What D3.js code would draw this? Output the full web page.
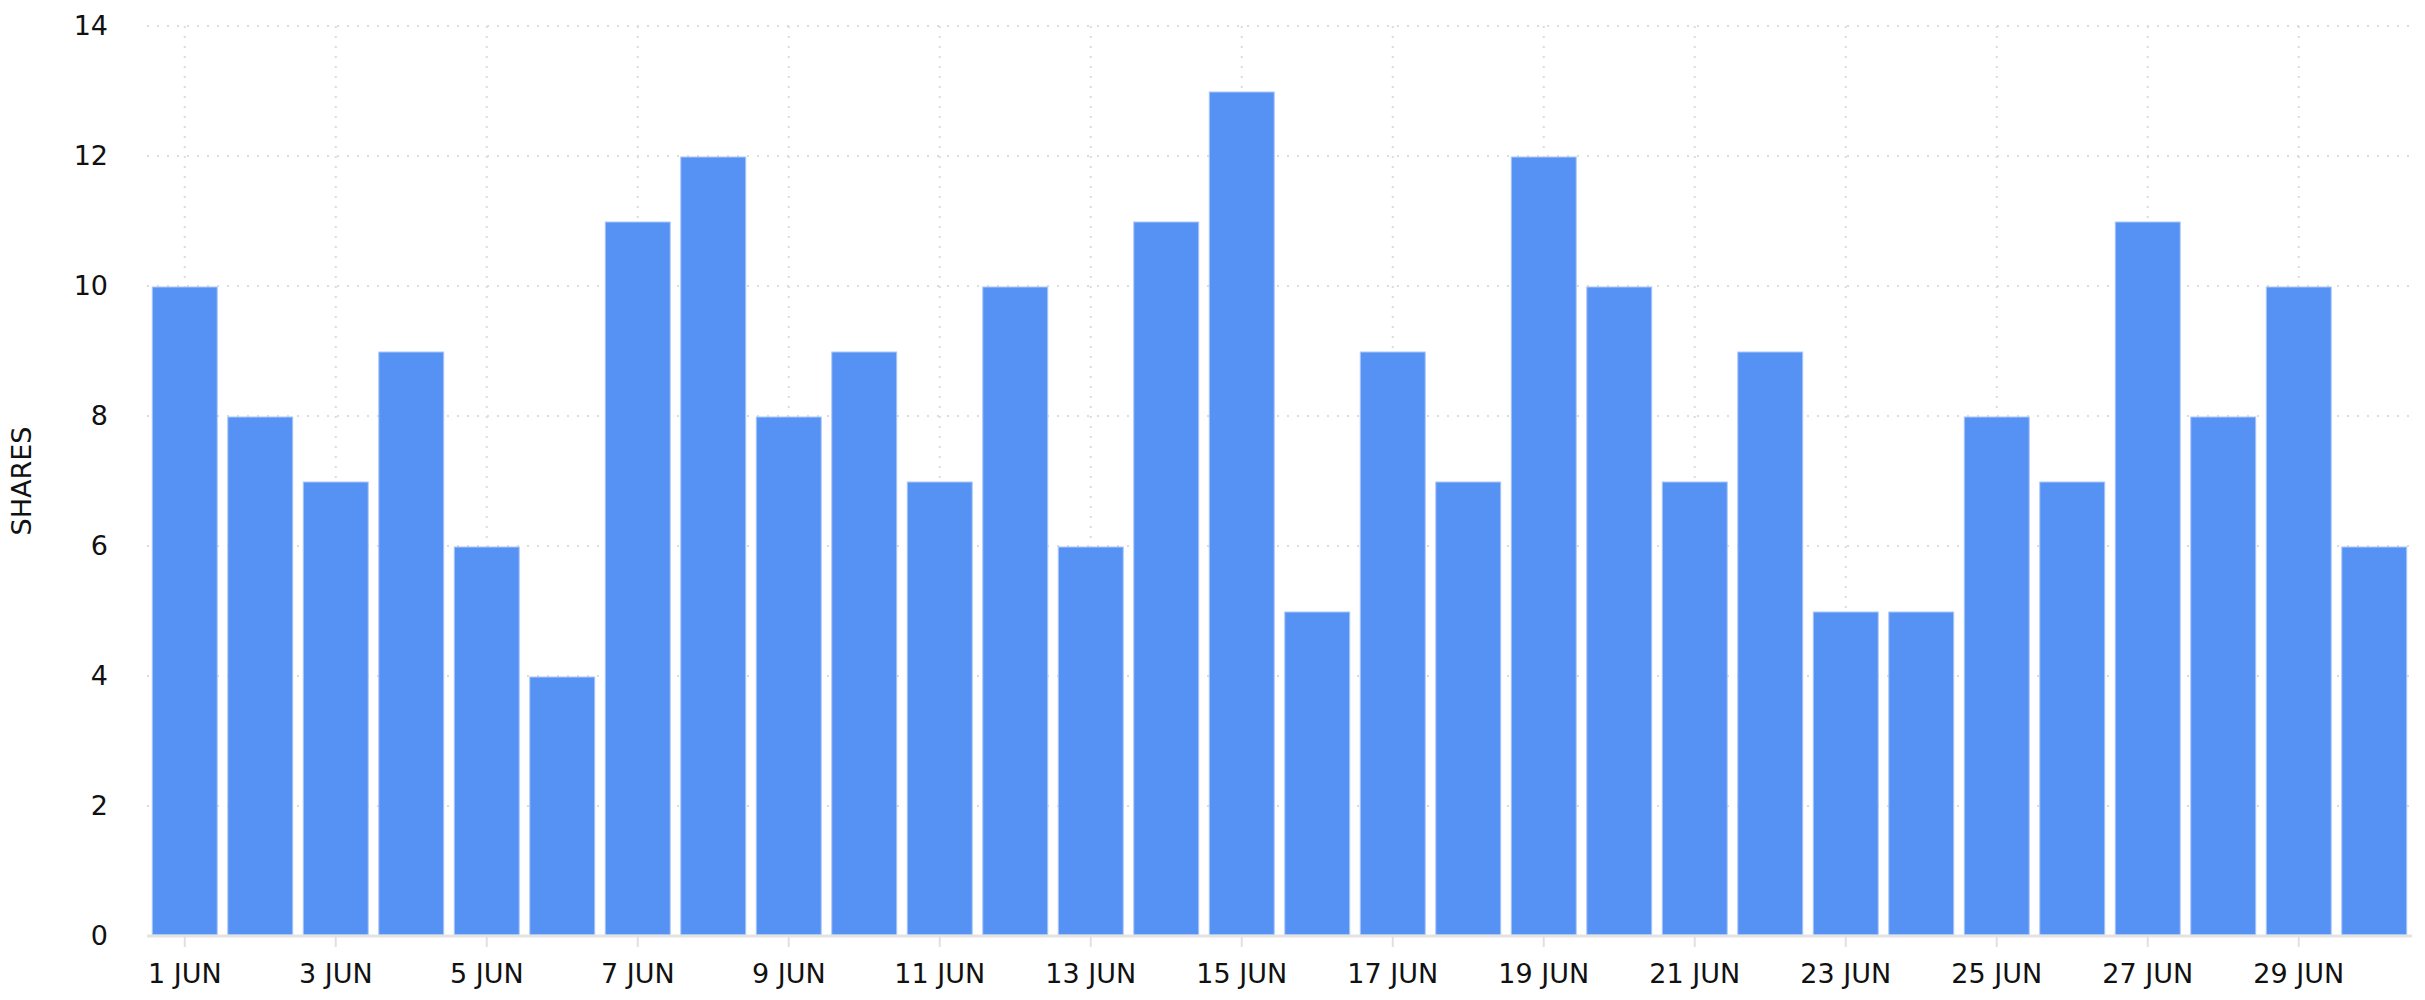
<!DOCTYPE html>
<html>
<head>
<meta charset="utf-8">
<script src="https://cdn.jsdelivr.net/npm/d3@7"></script>
<style>
  html, body { margin: 0; padding: 0; background: #fff; }
  svg { display: block; font-family: "DejaVu Sans", sans-serif; }
</style>
</head>
<body>
<svg id="chart" width="2425" height="1000"></svg>
<script>
const days = d3.range(1, 31).map(d => d + " JUN");
const shares = [10, 8, 7, 9, 6, 4, 11, 12, 8, 9, 7, 10, 6, 11, 13, 5, 9, 7, 12, 10, 7, 9, 5, 5, 8, 7, 11, 8, 10, 6];
const yTicks = [0, 2, 4, 6, 8, 10, 12, 14];
const xTickLabels = days.filter((d, i) => i % 2 === 0);
const yTitle = "SHARES";

const svg = d3.select("#chart");
const plotLeft = 147, plotRight = 2412, plotTop = 26, plotBottom = 936;

const x = d3.scaleBand().domain(days).range([plotLeft, plotRight]).paddingInner(0.14).paddingOuter(0.07);
const y = d3.scaleLinear().domain([0, 14]).range([plotBottom, plotTop]);

// horizontal grid
svg.append("g").selectAll("line").data(yTicks.filter(t => t > 0)).join("line")
  .attr("x1", plotLeft).attr("x2", plotRight)
  .attr("y1", d => y(d)).attr("y2", d => y(d))
  .attr("stroke", "#dcdcdc").attr("stroke-width", 2).attr("stroke-dasharray", "2,8");

// vertical grid
svg.append("g").selectAll("line").data(xTickLabels).join("line")
  .attr("x1", d => x(d) + x.bandwidth() / 2).attr("x2", d => x(d) + x.bandwidth() / 2)
  .attr("y1", y(14)).attr("y2", plotBottom)
  .attr("stroke", "#dcdcdc").attr("stroke-width", 2).attr("stroke-dasharray", "2,8");

// bars
svg.append("g").selectAll("rect").data(shares).join("rect")
  .attr("x", (d, i) => x(days[i]))
  .attr("y", d => y(d) + 1)
  .attr("width", x.bandwidth())
  .attr("height", d => plotBottom - y(d) - 2)
  .attr("fill", "#5692f3")
  .attr("stroke", "#a9c7f8").attr("stroke-width", 1);

// x axis
const xAxis = d3.axisBottom(x).tickValues(xTickLabels).tickSize(11).tickPadding(17);
const gx = svg.append("g").attr("transform", `translate(0,${plotBottom})`).call(xAxis);
gx.select(".domain").attr("stroke", "#e3e3e3").attr("stroke-width", 3)
  .attr("d", `M${plotLeft},0H${plotRight}`);
gx.selectAll(".tick line").attr("stroke", "#e0e0e0").attr("stroke-width", 2);
gx.selectAll(".tick text").attr("font-size", 27).attr("fill", "#111")
  .attr("font-family", "DejaVu Sans");

// y axis
const yAxis = d3.axisLeft(y).tickValues(yTicks).tickSize(0).tickPadding(39);
const gy = svg.append("g").attr("transform", `translate(${plotLeft},0)`).call(yAxis);
gy.select(".domain").remove();
gy.selectAll(".tick text").attr("font-size", 27).attr("fill", "#111")
  .attr("font-family", "DejaVu Sans");

// y title
svg.append("text")
  .attr("transform", `translate(31,${(plotTop + plotBottom) / 2}) rotate(-90)`)
  .attr("text-anchor", "middle")
  .attr("font-size", 27).attr("fill", "#111")
  .text(yTitle);
</script>
</body>
</html>
